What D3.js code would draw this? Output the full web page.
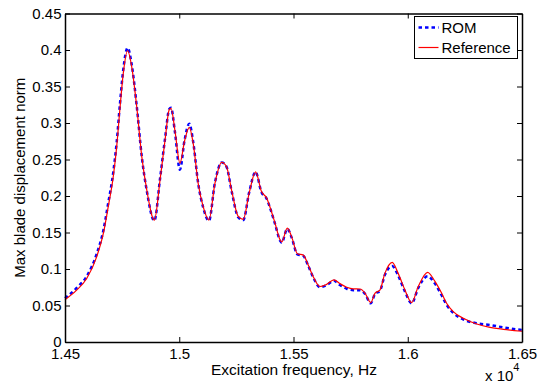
<!doctype html>
<html lang="en">
<head>
<meta charset="utf-8">
<script src="https://d3js.org/d3.v7.min.js"></script>
<style>
  body { margin: 0; background: #fff; }
  text { font-family: Arial, "Liberation Sans", Helvetica, sans-serif; }
</style>
</head>
<body>
<div id="chart"></div>
<script>
// excitation frequency, Hz
var freq = [14500, 14551, 14595, 14639, 14668, 14689, 14711, 14726, 14741, 14755, 14774, 14792, 14814, 14836, 14858, 14891,
            14916, 14938, 14956, 14964, 14981, 15003, 15023, 15044, 15061, 15083, 15105, 15130, 15156, 15186, 15207, 15229,
            15258, 15280, 15306, 15334, 15360, 15383, 15397, 15419, 15441, 15448, 15473, 15492, 15517, 15543, 15565, 15587,
            15616, 15645, 15677, 15703, 15733, 15762, 15791, 15813, 15838, 15857, 15878, 15900, 15932, 15958, 15988, 16017,
            16046, 16087, 16119, 16148, 16170, 16199, 16243, 16302, 16360, 16418, 16500];

// reference solution
var refVals = [0.058, 0.071, 0.087, 0.117, 0.149, 0.185, 0.226, 0.267, 0.322, 0.368, 0.399, 0.377, 0.322, 0.254, 0.208, 0.167,
               0.222, 0.277, 0.318, 0.320, 0.290, 0.245, 0.275, 0.294, 0.272, 0.217, 0.185, 0.167, 0.217, 0.246, 0.240, 0.208,
               0.172, 0.168, 0.204, 0.233, 0.206, 0.197, 0.185, 0.163, 0.140, 0.137, 0.156, 0.144, 0.121, 0.119, 0.105, 0.089,
               0.076, 0.079, 0.085, 0.080, 0.075, 0.0728, 0.0726, 0.067, 0.054, 0.067, 0.071, 0.094, 0.109, 0.094, 0.071, 0.054,
               0.076, 0.0955, 0.083, 0.067, 0.053, 0.0415, 0.0325, 0.0247, 0.020, 0.0174, 0.0147];

// reduced order model
var romVals = [0.060, 0.074, 0.090, 0.121, 0.153, 0.190, 0.232, 0.273, 0.328, 0.373, 0.403, 0.380, 0.323, 0.254, 0.207, 0.166,
               0.224, 0.279, 0.319, 0.321, 0.288, 0.236, 0.276, 0.299, 0.274, 0.217, 0.184, 0.166, 0.218, 0.246, 0.240, 0.207,
               0.171, 0.167, 0.205, 0.233, 0.205, 0.196, 0.184, 0.162, 0.139, 0.136, 0.155, 0.143, 0.120, 0.118, 0.104, 0.088,
               0.075, 0.078, 0.084, 0.078, 0.073, 0.071, 0.071, 0.066, 0.053, 0.066, 0.070, 0.092, 0.104, 0.091, 0.069, 0.053,
               0.074, 0.090, 0.080, 0.064, 0.051, 0.040, 0.031, 0.0256, 0.0233, 0.020, 0.0164];

var xTicks = [14500, 15000, 15500, 16000, 16500];
var xTickLabels = ["1.45", "1.5", "1.55", "1.6", "1.65"];
var yTicks = [0, 0.05, 0.1, 0.15, 0.2, 0.25, 0.3, 0.35, 0.4, 0.45];
var yTickLabels = ["0", "0.05", "0.1", "0.15", "0.2", "0.25", "0.3", "0.35", "0.4", "0.45"];

var W = 539, H = 388;
var margin = { top: 13.5, right: 17, bottom: 46, left: 65 },
    width = W - margin.left - margin.right,
    height = H - margin.top - margin.bottom;

var svg = d3.select("#chart").append("svg")
    .attr("width", W).attr("height", H);
var g = svg.append("g")
    .attr("transform", "translate(" + margin.left + "," + margin.top + ")");

var x = d3.scaleLinear().domain([14500, 16500]).range([0, width]);
var y = d3.scaleLinear().domain([0, 0.45]).range([height, 0]);

var romData = freq.map(function (f, i) { return { f: f, v: romVals[i] }; });
var refData = freq.map(function (f, i) { return { f: f, v: refVals[i] }; });

var line = d3.line()
    .curve(d3.curveMonotoneX)
    .x(function (d) { return x(d.f); })
    .y(function (d) { return y(d.v); });

g.append("path").datum(romData)
    .attr("fill", "none").attr("stroke", "#0000ff")
    .attr("stroke-width", 2.5).attr("stroke-dasharray", "3.5,3")
    .attr("d", line);
g.append("path").datum(refData)
    .attr("fill", "none").attr("stroke", "#ff0000")
    .attr("stroke-width", 1.2)
    .attr("d", line);

// axes (matlab style: inward ticks on all sides)
var tl = 5;
var xb = d3.axisBottom(x).tickValues(xTicks).tickSizeInner(-tl).tickSizeOuter(0).tickPadding(6)
    .tickFormat(function (d, i) { return xTickLabels[i]; });
var xt = d3.axisTop(x).tickValues(xTicks).tickSizeInner(-tl).tickSizeOuter(0).tickFormat("");
var yl = d3.axisLeft(y).tickValues(yTicks).tickSizeInner(-tl).tickSizeOuter(0).tickPadding(3.5)
    .tickFormat(function (d, i) { return yTickLabels[i]; });
var yr = d3.axisRight(y).tickValues(yTicks).tickSizeInner(-tl).tickSizeOuter(0).tickFormat("");

g.append("g").attr("class", "ax").attr("transform", "translate(0," + height + ")").call(xb);
g.append("g").attr("class", "ax").call(xt);
g.append("g").attr("class", "ax").call(yl);
g.append("g").attr("class", "ax").attr("transform", "translate(" + width + ",0)").call(yr);

g.selectAll(".ax path").attr("stroke", "#000").attr("stroke-width", 1.5);
g.selectAll(".ax line").attr("stroke", "#000").attr("stroke-width", 1);
g.selectAll(".ax text").attr("font-size", 15).attr("fill", "#000")
    .style("font-family", "Arial, 'Liberation Sans', sans-serif");

// labels
svg.append("text")
    .attr("x", 294).attr("y", 375)
    .attr("text-anchor", "middle").attr("font-size", 15.5)
    .text("Excitation frequency, Hz");
svg.append("text")
    .attr("transform", "translate(25," + (margin.top + height / 2) + ") rotate(-90)")
    .attr("text-anchor", "middle").attr("font-size", 15)
    .text("Max blade displacement norm");
var ex = svg.append("text").attr("x", 485).attr("y", 381).attr("font-size", 15);
ex.append("tspan").text("x 10");
ex.append("tspan").attr("dy", -10).attr("font-size", 11).text("4");

// legend
var lg = svg.append("g").attr("transform", "translate(414.5,16.5)");
lg.append("rect").attr("width", 103).attr("height", 42)
    .attr("fill", "#fff").attr("stroke", "#000").attr("stroke-width", 1);
lg.append("line").attr("x1", 4).attr("x2", 24).attr("y1", 11).attr("y2", 11)
    .attr("stroke", "#0000ff").attr("stroke-width", 2.5).attr("stroke-dasharray", "3.5,3");
lg.append("line").attr("x1", 4).attr("x2", 24).attr("y1", 31).attr("y2", 31)
    .attr("stroke", "#ff0000").attr("stroke-width", 1.2);
lg.append("text").attr("x", 27).attr("y", 16.5).attr("font-size", 15).text("ROM");
lg.append("text").attr("x", 27).attr("y", 36.5).attr("font-size", 15).text("Reference");
</script>
</body>
</html>
